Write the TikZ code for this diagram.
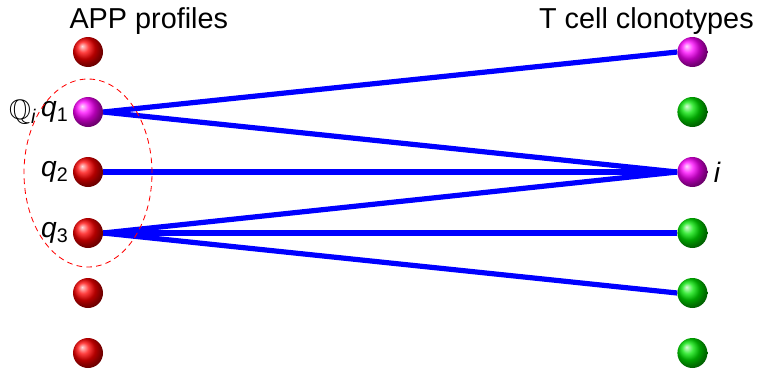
\documentclass[tikz,border=0pt]{standalone}
\usepackage{amssymb}
\usepackage{fontspec}
\setmainfont{Liberation Sans}
\usepackage{tikz}
\usetikzlibrary{positioning,shapes.geometric}

\begin{document}
\begin{tikzpicture}[
    ballnode/.style={circle, inner sep=0pt, minimum size=0.75cm},
    app/.style={ballnode, ball color=red},
    hit/.style={ballnode, ball color=magenta},
    clono/.style={ballnode, ball color=green!90!black},
    head/.style={font=\fontsize{20.5}{24}\selectfont, inner sep=0pt},
    lbl/.style={font=\fontsize{20}{24}\selectfont, inner sep=0pt},
    link/.style={blue, line width=3.7pt},
  ]
    \useasboundingbox (0,0) rectangle (18.975,9.225);

    % left column: APP profiles
    \node[app] (a1) at (2.2,7.925) {};
    \node[hit] (a2) at (2.2,6.425) {};
    \node[app] (a3) at (2.2,4.925) {};
    \node[app] (a4) at (2.2,3.4)   {};
    \node[app] (a5) at (2.2,1.9)   {};
    \node[app] (a6) at (2.2,0.4)   {};

    % right column: clonotypes
    \node[hit]   (c1) at (17.31,7.925) {};
    \node[clono] (c2) at (17.31,6.425) {};
    \node[hit]   (c3) at (17.31,4.925) {};
    \node[clono] (c4) at (17.31,3.4)   {};
    \node[clono] (c5) at (17.31,1.9)   {};
    \node[clono] (c6) at (17.31,0.4)   {};

    \node[head, anchor=base] (lhead) at (3.72,8.525) {APP profiles};
    \node[head, anchor=base east] (rhead) at (18.85,8.525) {T cell clonotypes};

    \node[lbl, left=0.1cm of a2] (q1) {\textit{q}\textsubscript{1}};
    \node[lbl, left=0.1cm of a3] (q2) {\textit{q}\textsubscript{2}};
    \node[lbl, left=0.1cm of a4] (q3) {\textit{q}\textsubscript{3}};
    \node[lbl, left=0.1cm of q1] (Qi) {$\mathbb{Q}$\textsubscript{\textit{i}}};
    \node[lbl, right=0.15cm of c3] (ci) {\textit{i}};

    \draw[link] (a2.east) -- (c1.west);
    \draw[link] (a2.east) -- (c3.west);
    \draw[link] (a3.east) -- (c3.west);
    \draw[link] (a4.east) -- (c3.west);
    \draw[link] (a4.east) -- (c4.west);
    \draw[link] (a4.east) -- (c5.west);

    \node[ellipse, draw=red, line width=0.6pt, dash pattern=on 4pt off 3pt,
          minimum width=3.2cm, minimum height=4.7cm] (grp) at (2.2,4.9) {};
\end{tikzpicture}
\end{document}
